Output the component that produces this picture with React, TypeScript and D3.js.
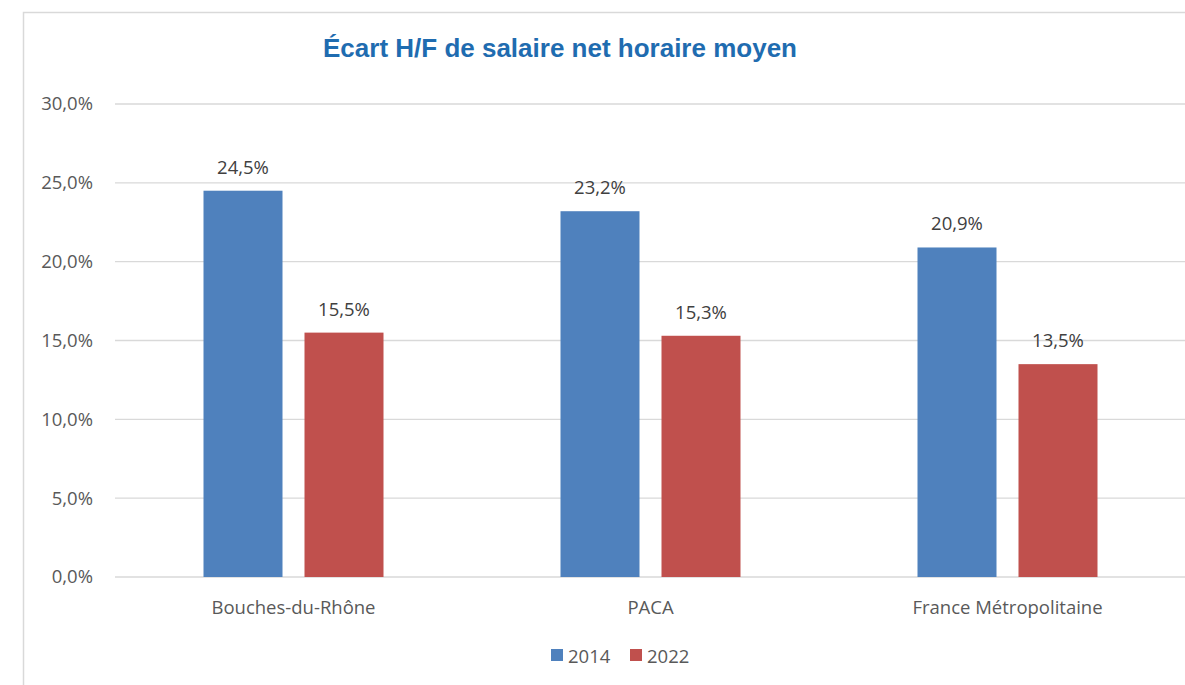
import React from "react";
import * as d3 from "d3";

const categories = ["Bouches-du-Rhône", "PACA", "France Métropolitaine"];
const seriesNames = ["2014", "2022"];
const values2014 = [24.5, 23.2, 20.9];
const values2022 = [15.5, 15.3, 13.5];
const yTicks = [0, 5, 10, 15, 20, 25, 30];
const colors = ["#4F81BD", "#C0504D"];

const W = 1185;
const H = 685;
const fmt = (v: number) => v.toFixed(1).replace(".", ",") + "%";

export default function App() {
  const x0 = d3.scaleBand<string>().domain(categories).range([115, 1186]).paddingInner(0).paddingOuter(0);
  const x1 = d3.scaleBand<string>().domain(seriesNames).range([88.5, 357 - 88.5]).paddingInner(22 / 101).paddingOuter(0);
  const y = d3.scaleLinear().domain([0, 30]).range([577, 104]);
  const series = [values2014, values2022];
  const font = "'Open Sans', 'Liberation Sans', sans-serif";
  const fs = 18.5;
  return (
    <svg width={W} height={H} style={{ position: "absolute", left: 0, top: 0 }}>
      <rect x={0} y={0} width={W} height={H} fill="#fff" />
      <rect x={23.5} y={12.5} width={1200} height={700} fill="none" stroke="#d9d9d9" strokeWidth={1.5} />
      <text x={560} y={57} textAnchor="middle" fill="#1F6CB0" fontFamily="'Liberation Sans', Arial, sans-serif" fontWeight="bold" fontSize={26}>
        Écart H/F de salaire net horaire moyen
      </text>
      {yTicks.map((t) => (
        <g key={t}>
          <line x1={115} x2={1186} y1={y(t)} y2={y(t)} stroke="#d9d9d9" strokeWidth={1.3} />
          <text x={93} y={y(t)} dy="0.35em" textAnchor="end" fill="#595959" fontFamily={font} fontSize={fs}>
            {fmt(t)}
          </text>
        </g>
      ))}
      {categories.map((c, i) => (
        <g key={c} transform={`translate(${x0(c)},0)`}>
          {seriesNames.map((s, j) => {
            const v = series[j][i];
            const bx = x1(s)!;
            return (
              <g key={s}>
                <rect x={bx} y={y(v)} width={x1.bandwidth()} height={y(0) - y(v)} fill={colors[j]} />
                <text x={bx + x1.bandwidth() / 2} y={y(v) - 17} textAnchor="middle" fill="#404040" fontFamily={font} fontSize={fs}>
                  {fmt(v)}
                </text>
              </g>
            );
          })}
          <text x={x0.bandwidth() / 2} y={614} textAnchor="middle" fill="#595959" fontFamily={font} fontSize={fs}>
            {c}
          </text>
        </g>
      ))}
      {seriesNames.map((s, j) => (
        <g key={s} transform={`translate(${551 + j * 79},0)`}>
          <rect x={0} y={649} width={12} height={12} fill={colors[j]} />
          <text x={17} y={663} fill="#595959" fontFamily={font} fontSize={fs}>
            {s}
          </text>
        </g>
      ))}
    </svg>
  );
}
